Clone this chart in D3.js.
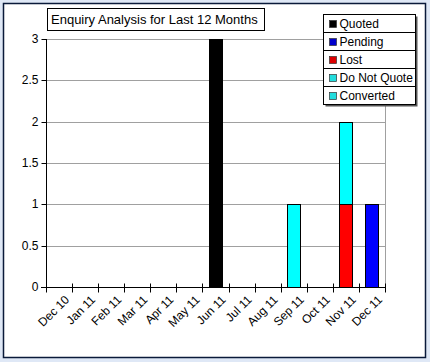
<!DOCTYPE html>
<html>
<head>
<meta charset="utf-8">
<script src="https://cdn.jsdelivr.net/npm/d3@7"></script>
<style>
  body { margin: 0; background: #dfe8f6; }
  svg { display: block; font-family: "Liberation Sans", Arial, sans-serif; }
</style>
</head>
<body>
<script>
var W = 430, H = 362;
var margin = {top: 39, right: 45, bottom: 75, left: 46},
    width = W - margin.left - margin.right,
    height = H - margin.top - margin.bottom;

var months = ["Dec 10", "Jan 11", "Feb 11", "Mar 11", "Apr 11", "May 11", "Jun 11",
              "Jul 11", "Aug 11", "Sep 11", "Oct 11", "Nov 11", "Dec 11"];
var seriesNames = ["Quoted", "Pending", "Lost", "Do Not Quote", "Converted"];
var seriesColors = ["#000000", "#0000ff", "#ff0000", "#00ffff", "#00ffff"];
var legendColors = ["#000000", "#0000cc", "#dd0000", "#22dddd", "#22dddd"];
var quoted     = [0, 0, 0, 0, 0, 0, 3, 0, 0, 0, 0, 0, 0];
var pending    = [0, 0, 0, 0, 0, 0, 0, 0, 0, 0, 0, 0, 1];
var lost       = [0, 0, 0, 0, 0, 0, 0, 0, 0, 0, 0, 1, 0];
var doNotQuote = [0, 0, 0, 0, 0, 0, 0, 0, 0, 1, 0, 0, 0];
var converted  = [0, 0, 0, 0, 0, 0, 0, 0, 0, 0, 0, 1, 0];
var yTicks = [0, 0.5, 1, 1.5, 2, 2.5, 3];

var table = months.map(function(m, i) {
  return {month: m, "Quoted": quoted[i], "Pending": pending[i], "Lost": lost[i],
          "Do Not Quote": doNotQuote[i], "Converted": converted[i]};
});
var stacked = d3.stack().keys(seriesNames)(table);

var svg = d3.select("body").append("svg")
    .attr("width", W).attr("height", H);

// outer frame
svg.append("rect")
    .attr("x", 3.5).attr("y", 3.5)
    .attr("width", 422).attr("height", 354)
    .style("fill", "#fff").style("stroke", "#0a1a3a").style("stroke-width", 1.5);

var g = svg.append("g")
    .attr("transform", "translate(" + margin.left + "," + margin.top + ")");

var x = d3.scaleBand().domain(months).range([0, width]).paddingInner(0.5).paddingOuter(0.25);
var xb = d3.scaleLinear().domain([0, months.length]).range([0, width]);
var y = d3.scaleLinear().domain([0, 3]).range([height, 0]);

// grid
g.selectAll(".grid").data(yTicks.slice(1)).enter().append("line")
    .attr("x1", 0).attr("x2", width)
    .attr("y1", function(d) { return Math.round(y(d)) + 0.5; })
    .attr("y2", function(d) { return Math.round(y(d)) + 0.5; })
    .style("stroke", "#a0a0a0");
g.append("line")
    .attr("x1", width + 0.5).attr("x2", width + 0.5)
    .attr("y1", 0).attr("y2", height)
    .style("stroke", "#a0a0a0");

// bars
g.selectAll(".series").data(stacked).enter().append("g")
    .style("fill", function(d, i) { return seriesColors[i]; })
  .selectAll("rect").data(function(d) { return d.filter(function(p) { return p[1] > p[0]; }); })
  .enter().append("rect")
    .attr("x", function(d) { return Math.round(x(d.data.month)) + 0.5; })
    .attr("width", Math.round(x.bandwidth()))
    .attr("y", function(d) { return Math.round(y(d[1])) + 0.5; })
    .attr("height", function(d) { return Math.round(y(d[0])) - Math.round(y(d[1])); })
    .style("stroke", "#000").style("stroke-width", 1);

// y axis
var yAxis = g.append("g")
    .attr("transform", "translate(0.5,0)")
    .call(d3.axisLeft(y).tickValues(yTicks).tickSize(5).tickPadding(3)
          .tickFormat(function(d) { return d; }));
yAxis.select(".domain").attr("d", "M0," + 0 + "V" + (height + 5));
yAxis.selectAll("text").style("font-size", "12px").style("fill", "#000")
    .style("font-family", "'Liberation Sans', Arial, sans-serif");
yAxis.selectAll("line").attr("y1", 0.5).attr("y2", 0.5).attr("transform", null)
    .each(function(d) { d3.select(this.parentNode).attr("transform", "translate(0," + (Math.round(y(d))) + ")"); });

// x axis
var xAxis = g.append("g").attr("transform", "translate(0," + (height + 0.5) + ")");
xAxis.append("line").attr("x1", -5).attr("x2", width + 0.5).style("stroke", "#000");
xAxis.selectAll(".tk").data(d3.range(months.length + 1)).enter().append("line")
    .attr("x1", function(d) { return Math.round(xb(d)) + 0.5; })
    .attr("x2", function(d) { return Math.round(xb(d)) + 0.5; })
    .attr("y1", -4).attr("y2", 5)
    .style("stroke", "#000");
xAxis.selectAll(".lbl").data(months).enter().append("text")
    .attr("transform", function(d) {
      return "translate(" + (x(d) + x.bandwidth() / 2 + 5) + ",7) rotate(-45)";
    })
    .attr("text-anchor", "end")
    .attr("dy", "0.7em")
    .style("font-size", "12px")
    .text(function(d) { return d; });

// title
svg.append("rect")
    .attr("x", 47.5).attr("y", 8.5).attr("width", 217).attr("height", 22)
    .style("fill", "#fff").style("stroke", "#000");
svg.append("text")
    .attr("x", 51).attr("y", 24)
    .style("font-size", "13px")
    .text("Enquiry Analysis for Last 12 Months");

// legend
var lg = svg.append("g").attr("transform", "translate(323.5,14.5)");
lg.append("rect").attr("x", 2).attr("y", 2).attr("width", 92).attr("height", 90)
    .style("fill", "#555");
var rows = lg.selectAll(".row").data(seriesNames).enter().append("g")
    .attr("transform", function(d, i) { return "translate(0," + (i * 18) + ")"; });
rows.append("rect").attr("width", 92).attr("height", 18)
    .style("fill", "#fff").style("stroke", "#000");
rows.append("rect").attr("x", 6).attr("y", 6).attr("width", 7).attr("height", 7)
    .style("fill", function(d, i) { return legendColors[i]; })
    .style("stroke", "#333").style("stroke-width", 0.7);
rows.append("text").attr("x", 16).attr("y", 13.5)
    .style("font-size", "12px")
    .text(function(d) { return d; });
</script>
</body>
</html>
